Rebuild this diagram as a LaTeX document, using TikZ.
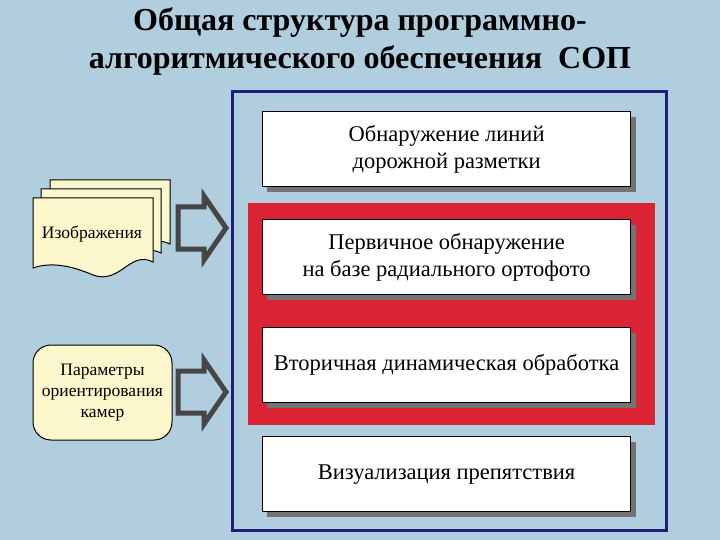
\documentclass[tikz,border=0pt]{standalone}
\usepackage{fontspec}
\setmainfont{Liberation Serif}
\definecolor{bg}{RGB}{176,206,222}
\definecolor{navy}{RGB}{30,30,120}
\definecolor{redf}{RGB}{218,36,52}
\definecolor{cream}{RGB}{252,246,204}
\definecolor{arr}{RGB}{70,70,70}
\begin{document}
\begin{tikzpicture}[x=1pt,y=-1pt,
  wbox/.style={draw=black,line width=1.2pt,fill=white,minimum width=368pt,minimum height=75pt,anchor=north west,align=center,font=\fontsize{22.5}{27}\selectfont},
  shad/.style={fill=black!55},
  blockarr/.style={draw=arr,line width=5pt,fill=bg,line join=miter},
  doc/.style={draw=black,line width=1pt,fill=cream}]
\useasboundingbox[fill=bg] (0,0) rectangle (720,540);
\node[font=\bfseries\fontsize{32}{38}\selectfont,align=center] (title) at (360,41) {Общая структура программно-\\алгоритмического обеспечения\ \ СОП};
\draw[navy,line width=3pt] (232,92) rectangle (666,530);
\fill[redf] (248,203) rectangle (655,425);
\foreach \y in {111,219,327,436}{\fill[shad] (267,\y+6) rectangle (636,\y+81);}
\node[wbox] (b1) at (262,111) {Обнаружение линий\\дорожной разметки};
\node[wbox] (b2) at (262,219) {Первичное обнаружение\\на базе радиального ортофото};
\node[wbox] (b3) at (262,327) {Вторичная динамическая обработка};
\node[wbox] (b4) at (262,436) {Визуализация препятствия};
% document stack
\foreach \dx/\dy in {17/-18,8/-9}{
 \draw[doc] (33+\dx,198+\dy) -- (153+\dx,198+\dy) -- (153+\dx,262+\dy) .. controls (130+\dx,250+\dy) and (120+\dx,285+\dy) .. (93+\dx,275+\dy) .. controls (70+\dx,265+\dy) and (50+\dx,262+\dy) .. (33+\dx,268+\dy) -- cycle;}
\draw[doc] (33,198) -- (153,198) -- (153,262) .. controls (130,250) and (120,285) .. (93,275) .. controls (70,265) and (50,262) .. (33,268) -- cycle;
\node[font=\fontsize{17.5}{21}\selectfont] (img) at (92,234) {Изображения};
\node[draw=black,line width=1pt,fill=cream,rounded corners=18pt,minimum width=139pt,minimum height=95pt,align=center,font=\fontsize{17.5}{21}\selectfont] (par) at (102.5,392.5) {Параметры\\ориентирования\\камер};
\foreach \c in {228,392}{
 \draw[blockarr] (178,\c-21) -- (204,\c-21) -- (204,\c-32) -- (226,\c) -- (204,\c+32) -- (204,\c+21) -- (178,\c+21) -- cycle;}
\end{tikzpicture}
\end{document}
